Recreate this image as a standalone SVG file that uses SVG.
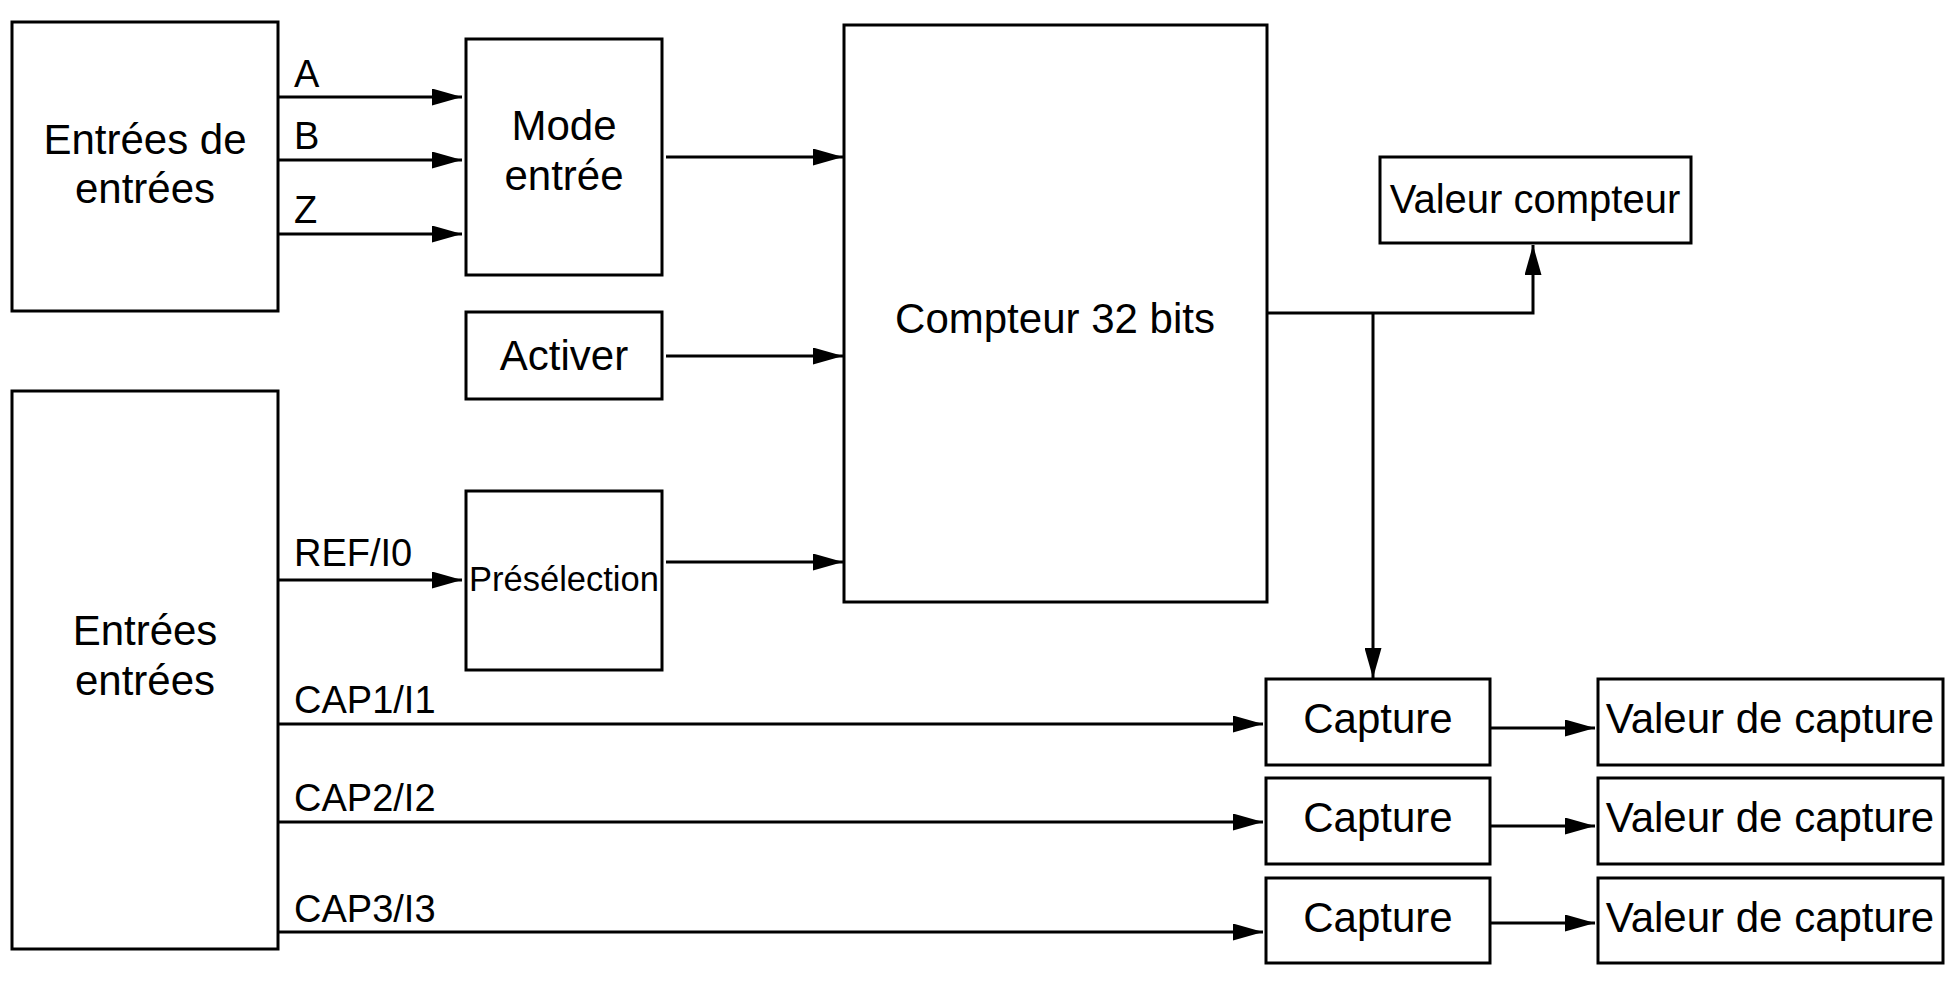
<svg xmlns="http://www.w3.org/2000/svg" width="1956" height="984" viewBox="0 0 1956 984">
<style>
.box{fill:#fff;stroke:#000;stroke-width:3}
.t{font-family:"Liberation Sans",Arial,sans-serif;font-size:42px;fill:#000;text-anchor:middle}
.l{font-family:"Liberation Sans",Arial,sans-serif;font-size:38px;fill:#000}
.c{fill:none;stroke:#000;stroke-width:3}
</style>
<defs>
<marker id="ah" markerUnits="userSpaceOnUse" markerWidth="30" markerHeight="17" refX="30" refY="8.5" orient="auto">
<path d="M0,0 L30,8.5 L0,17 z" fill="#000"/>
</marker>
</defs>
<rect width="1956" height="984" fill="#fff"/>
<g id="connectors">
<line class="c" x1="279" y1="97" x2="462" y2="97" marker-end="url(#ah)"/>
<line class="c" x1="279" y1="160" x2="462" y2="160" marker-end="url(#ah)"/>
<line class="c" x1="279" y1="234" x2="462" y2="234" marker-end="url(#ah)"/>
<line class="c" x1="666" y1="157" x2="843" y2="157" marker-end="url(#ah)"/>
<line class="c" x1="666" y1="356" x2="843" y2="356" marker-end="url(#ah)"/>
<line class="c" x1="279" y1="580" x2="462" y2="580" marker-end="url(#ah)"/>
<line class="c" x1="666" y1="562" x2="843" y2="562" marker-end="url(#ah)"/>
<polyline class="c" points="1268,313 1533,313 1533,245" marker-end="url(#ah)"/>
<line class="c" x1="1373" y1="313" x2="1373" y2="678" marker-end="url(#ah)"/>
<line class="c" x1="279" y1="724" x2="1263" y2="724" marker-end="url(#ah)"/>
<line class="c" x1="279" y1="822" x2="1263" y2="822" marker-end="url(#ah)"/>
<line class="c" x1="279" y1="932" x2="1263" y2="932" marker-end="url(#ah)"/>
<line class="c" x1="1491" y1="728" x2="1595" y2="728" marker-end="url(#ah)"/>
<line class="c" x1="1491" y1="826" x2="1595" y2="826" marker-end="url(#ah)"/>
<line class="c" x1="1491" y1="923" x2="1595" y2="923" marker-end="url(#ah)"/>
<text class="l" x="294" y="87">A</text>
<text class="l" x="294" y="149">B</text>
<text class="l" x="294" y="223">Z</text>
<text class="l" x="294" y="566">REF/I0</text>
<text class="l" x="294" y="713">CAP1/I1</text>
<text class="l" x="294" y="811">CAP2/I2</text>
<text class="l" x="294" y="922">CAP3/I3</text>
</g>
<g id="entrees1">
<rect class="box" x="12" y="22" width="266" height="289"/>
<text class="t" x="145" y="154">Entrées de</text>
<text class="t" x="145" y="203">entrées</text>
</g>
<g id="entrees2">
<rect class="box" x="12" y="391" width="266" height="558"/>
<text class="t" x="145" y="645">Entrées</text>
<text class="t" x="145" y="695">entrées</text>
</g>
<g id="mode">
<rect class="box" x="466" y="39" width="196" height="236"/>
<text class="t" x="564" y="140">Mode</text>
<text class="t" x="564" y="190">entrée</text>
</g>
<g id="activer">
<rect class="box" x="466" y="312" width="196" height="87"/>
<text class="t" x="564" y="370">Activer</text>
</g>
<g id="preselection">
<rect class="box" x="466" y="491" width="196" height="179"/>
<text class="t" x="564" y="591" style="font-size:34.5px">Présélection</text>
</g>
<g id="compteur">
<rect class="box" x="844" y="25" width="423" height="577"/>
<text class="t" x="1055" y="333">Compteur 32 bits</text>
</g>
<g id="valeur-compteur">
<rect class="box" x="1380" y="157" width="311" height="86"/>
<text class="t" x="1535" y="213" style="font-size:40px">Valeur compteur</text>
</g>
<g id="capture1">
<rect class="box" x="1266" y="679" width="224" height="86"/>
<text class="t" x="1378" y="733">Capture</text>
</g>
<g id="capture2">
<rect class="box" x="1266" y="778" width="224" height="86"/>
<text class="t" x="1378" y="832">Capture</text>
</g>
<g id="capture3">
<rect class="box" x="1266" y="878" width="224" height="85"/>
<text class="t" x="1378" y="932">Capture</text>
</g>
<g id="valeur-capture1">
<rect class="box" x="1598" y="679" width="345" height="86"/>
<text class="t" x="1770" y="733">Valeur de capture</text>
</g>
<g id="valeur-capture2">
<rect class="box" x="1598" y="778" width="345" height="86"/>
<text class="t" x="1770" y="832">Valeur de capture</text>
</g>
<g id="valeur-capture3">
<rect class="box" x="1598" y="878" width="345" height="85"/>
<text class="t" x="1770" y="932">Valeur de capture</text>
</g>
</svg>
